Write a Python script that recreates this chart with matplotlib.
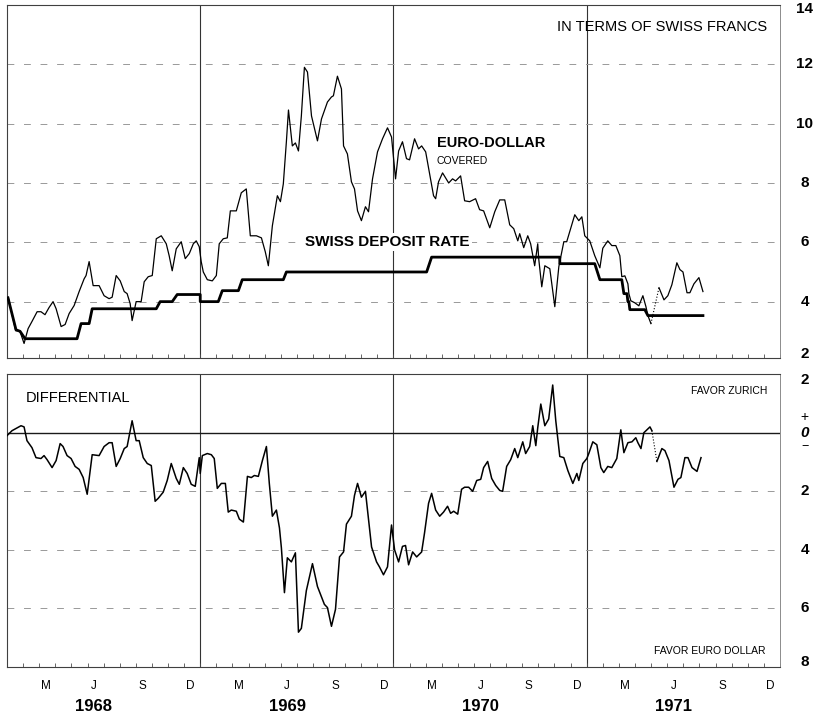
import matplotlib
matplotlib.use('Agg')
import matplotlib.pyplot as plt
import matplotlib.transforms as mtransforms

plt.rcParams['font.family'] = ['Liberation Sans', 'DejaVu Sans']

# Months counted from 1 January 1968.
euro_month = [0.08, 0.54, 0.79, 1.06, 1.31, 1.55, 1.87, 2.11, 2.36, 2.61, 2.86, 3.05,
              3.36, 3.61, 3.86, 4.17, 4.48, 4.79, 4.91, 5.10, 5.35, 5.72, 6.03, 6.34,
              6.53, 6.78, 7.03, 7.28, 7.46, 7.65, 7.77, 8.02, 8.33, 8.52, 8.77, 9.02,
              9.27, 9.58, 9.89, 10.07, 10.26, 10.51, 10.82, 11.07, 11.32, 11.57, 11.75,
              11.94, 12.06, 12.19, 12.44, 12.75, 13.0, 13.18, 13.43, 13.68, 13.87, 14.24,
              14.55, 14.86, 15.11, 15.49, 15.80, 16.04, 16.23, 16.48, 16.79, 16.98, 17.16,
              17.35, 17.48, 17.72, 17.91, 18.10, 18.28, 18.47, 18.66, 18.91, 19.28, 19.53,
              19.90, 20.15, 20.27, 20.52, 20.77, 20.90, 21.14, 21.39, 21.58, 21.77, 22.01,
              22.26, 22.45, 22.70, 23.01, 23.32, 23.63, 23.88, 24.13, 24.32, 24.56, 24.81,
              25.0, 25.31, 25.56, 25.75, 26.0, 26.49, 26.62, 26.80, 27.05, 27.43, 27.67,
              27.86, 28.17, 28.42, 28.73, 29.10, 29.35, 29.60, 29.98, 30.29, 30.60, 30.91,
              31.22, 31.47, 31.72, 31.84, 32.09, 32.34, 32.52, 32.77, 32.96, 33.02, 33.21,
              33.40, 33.71, 34.02, 34.27, 34.58, 34.76, 35.26, 35.51, 35.70, 35.88, 36.19,
              36.50, 36.82, 37.0, 37.31, 37.56, 37.81, 38.06, 38.18, 38.37, 38.56, 38.62,
              38.74, 38.99, 39.24, 39.49, 39.68, 39.80, 39.99]
euro_rate = [4.13, 3.02, 3.02, 2.59, 3.09, 3.33, 3.66, 3.66, 3.56, 3.80, 4.0, 3.76,
             3.16, 3.23, 3.60, 3.87, 4.34, 4.77, 4.88, 5.35, 4.54, 4.54, 4.20, 4.10,
             4.15, 4.88, 4.70, 4.34, 4.27, 3.93, 3.36, 4.0, 4.0, 4.67, 4.84, 4.88,
             6.12, 6.22, 5.95, 5.55, 5.04, 5.78, 6.02, 5.45, 5.62, 5.95, 6.05,
             5.85, 5.35, 5.0, 4.74, 4.70, 4.88, 5.95, 6.12, 6.15, 7.06, 7.06,
             7.67, 7.80, 6.22, 6.22, 6.15, 5.68, 5.21, 6.56, 7.57, 7.37, 7.97,
             9.39, 10.46, 9.25, 9.35, 9.08, 10.26, 11.90, 11.74, 10.26, 9.42, 10.16,
             10.73, 10.90, 10.94, 11.60, 11.17, 9.25, 8.98, 8.04, 7.80, 7.06, 6.73,
             7.20, 7.03, 8.14, 9.05, 9.49, 9.86, 9.55, 8.14, 9.08, 9.39, 8.82,
             8.78, 9.49, 9.15, 9.25, 9.05, 7.57, 7.47, 8.04, 8.34, 8.0, 8.14,
             8.07, 8.24, 7.40, 7.37, 7.47, 7.10, 7.06, 6.49, 7.03, 7.43, 7.43,
             6.59, 6.46, 6.05, 6.29, 5.82, 6.22, 5.95, 5.21, 5.95, 5.45, 4.50,
             5.21, 5.11, 3.83, 5.18, 6.02, 6.02, 6.93, 6.73, 6.86, 6.22, 6.05,
             5.55, 5.14, 5.80, 6.05, 5.89, 5.89, 5.55, 4.84, 4.87, 4.60, 4.27,
             4.03, 3.96, 3.86, 4.20, 3.83, 3.53, 3.26]
euro_month_late = [40.49, 40.80, 41.04, 41.29, 41.60, 41.79, 41.98, 42.23, 42.41,
                   42.66, 42.97, 43.22]
euro_rate_late = [4.47, 4.06, 4.20, 4.57, 5.31, 5.08, 5.0, 4.30, 4.30, 4.60, 4.81, 4.34]

swiss_month = [0.06, 0.56, 0.81, 1.12, 4.35, 4.60, 5.10, 5.29, 9.27, 9.51, 10.26, 10.57,
               12.0, 12.0, 13.12, 13.37, 14.37, 14.61, 17.16, 17.35, 26.06, 26.37,
               34.33, 34.33, 36.50, 36.82, 38.18, 38.31, 38.50, 38.56, 38.62, 38.68,
               39.61, 39.80, 43.22]
swiss_rate = [4.13, 3.05, 3.0, 2.75, 2.75, 3.26, 3.26, 3.76, 3.76, 4.0, 4.0, 4.24,
              4.24, 4.0, 4.0, 4.37, 4.37, 4.74, 4.74, 5.0, 5.0, 5.5,
              5.5, 5.28, 5.28, 4.74, 4.74, 4.27, 4.27, 4.0, 4.0, 3.73,
              3.73, 3.53, 3.53]

# Differential: positive favours Zurich, negative favours the Euro-dollar.
diff_month = [0.0, 0.31, 0.87, 1.06, 1.24, 1.55, 1.80, 2.11, 2.30, 2.49, 2.80, 3.05,
              3.30, 3.48, 3.73, 3.98, 4.23, 4.48, 4.73, 4.98, 5.29, 5.72, 6.03, 6.34,
              6.53, 6.78, 7.03, 7.28, 7.46, 7.77, 8.02, 8.21, 8.46, 8.71, 8.96, 9.20,
              9.39, 9.70, 9.95, 10.20, 10.51, 10.70, 10.95, 11.19, 11.44, 11.69, 11.94,
              12.0, 12.13, 12.44, 12.69, 12.87, 13.06, 13.31, 13.56, 13.74, 13.93, 14.24,
              14.43, 14.68, 14.93, 15.17, 15.36, 15.61, 15.86, 16.11, 16.29, 16.48, 16.73,
              16.92, 17.04, 17.23, 17.41, 17.66, 17.91, 18.10, 18.28, 18.59, 18.97, 19.28,
              19.71, 19.90, 20.15, 20.40, 20.65, 20.90, 21.08, 21.39, 21.58, 21.77, 22.01,
              22.26, 22.39, 22.64, 22.95, 23.13, 23.38, 23.63, 23.88, 24.07, 24.32, 24.56,
              24.75, 24.94, 25.19, 25.44, 25.75, 25.93, 26.18, 26.37, 26.62, 26.87, 27.11,
              27.36, 27.55, 27.74, 27.99, 28.23, 28.42, 28.67, 28.92, 29.17, 29.42, 29.60,
              29.85, 30.10, 30.35, 30.60, 30.78, 31.03, 31.28, 31.53, 31.72, 32.03, 32.21,
              32.46, 32.65, 32.84, 32.96, 33.15, 33.40, 33.64, 33.89, 34.08, 34.33, 34.58,
              34.83, 35.14, 35.39, 35.51, 35.76, 36.01, 36.13, 36.38, 36.63, 36.88, 37.06,
              37.31, 37.56, 37.87, 38.12, 38.31, 38.56, 38.81, 39.05, 39.18, 39.37, 39.55,
              39.93, 40.05]
diff_value = [-0.1, 0.07, 0.24, 0.20, -0.27, -0.51, -0.85, -0.88, -0.78, -0.92, -1.19, -0.95,
              -0.37, -0.47, -0.78, -0.88, -1.15, -1.25, -1.53, -2.10, -0.75, -0.78, -0.47, -0.34,
              -0.34, -1.15, -0.88, -0.54, -0.47, 0.41, -0.27, -0.27, -0.85, -1.05, -1.12, -2.34,
              -2.24, -2.03, -1.63, -1.05, -1.56, -1.76, -1.19, -1.39, -1.76, -1.83, -0.85,
              -1.39, -0.78, -0.71, -0.75, -0.88, -1.90, -1.73, -1.73, -2.71, -2.64, -2.68,
              -2.95, -3.05, -1.49, -1.53, -1.46, -1.49, -0.95, -0.47, -1.73, -2.85, -2.64,
              -3.25, -3.93, -5.46, -4.27, -4.41, -4.10, -6.81, -6.68, -5.39, -4.47, -5.25,
              -5.86, -5.97, -6.61, -6.03, -4.24, -4.07, -3.12, -2.85, -2.14, -1.73, -2.20,
              -2.0, -2.64, -3.90, -4.41, -4.58, -4.85, -4.58, -3.15, -4.0, -4.41, -3.88,
              -3.85, -4.51, -4.07, -4.24, -4.07, -3.42, -2.41, -2.07, -2.64, -2.85, -2.71,
              -2.51, -2.75, -2.68, -2.78, -1.93, -1.86, -1.86, -2.0, -1.63, -1.59, -1.19,
              -0.98, -1.56, -1.80, -1.97, -2.0, -1.15, -0.92, -0.54, -0.85, -0.31, -0.71,
              -0.47, 0.24, -0.44, 0.17, 0.98, 0.24, 0.47, 1.63, 0.41, -0.81, -0.85,
              -1.29, -1.73, -1.39, -1.63, -1.05, -0.88, -0.71, -0.31, -0.41, -1.19, -1.36,
              -1.15, -1.19, -0.88, 0.10, -0.68, -0.34, -0.31, -0.17, -0.34, -0.54, 0.0,
              0.20, 0.07]
diff_month_late = [40.36, 40.67, 40.86, 41.11, 41.42, 41.67, 41.85, 42.10, 42.29, 42.54,
                   42.85, 43.10]
diff_value_late = [-0.98, -0.54, -0.61, -0.95, -1.86, -1.59, -1.53, -0.85, -0.85, -1.19,
                   -1.32, -0.85]

month_labels = ['M', 'J', 'S', 'D']
years = ['1968', '1969', '1970', '1971']
top_ticks = [14, 12, 10, 8, 6, 4, 2]
bottom_ticks = [('2', 1.8), ('2', -2), ('4', -4), ('6', -6), ('8', -7.83)]


def style_axes(ax):
    ax.set_xlim(0, 48)
    for side in ['top', 'bottom', 'left']:
        ax.spines[side].set_color('0.25')
        ax.spines[side].set_linewidth(0.8)
    ax.spines['right'].set_color('0.55')
    ax.spines['right'].set_linewidth(0.7)
    ax.set_yticks([])
    ax.set_xticks(range(49), minor=True)
    ax.tick_params(axis='x', which='minor', direction='in', length=3, width=0.6,
                   color='0.3', top=False)
    for m in (12, 24, 36):
        ax.axvline(m, color='0.2', lw=0.8, zorder=1)


fig = plt.figure(figsize=(8.24, 7.16), dpi=100)
ax1 = fig.add_axes([0.0085, 0.5, 0.938, 0.493])
ax2 = fig.add_axes([0.0085, 0.0684, 0.938, 0.409])

# Top panel: rates in terms of Swiss francs.
style_axes(ax1)
ax1.set_ylim(2.1, 14)
ax1.set_xticks([])
for v in range(4, 13, 2):
    ax1.axhline(v, color='0.6', lw=0.7, ls=(0, (7, 10)), zorder=1)
ax1.plot(euro_month, euro_rate, color='black', lw=0.9, zorder=3)
ax1.plot([euro_month[-1], euro_month_late[0]], [euro_rate[-1], euro_rate_late[0]],
         color='black', lw=0.8, ls=':', zorder=3)
ax1.plot(euro_month_late, euro_rate_late, color='black', lw=0.9, zorder=3)
ax1.plot(swiss_month, swiss_rate, color='black', lw=2.0, zorder=3)

tr1 = mtransforms.blended_transform_factory(ax1.transAxes, ax1.transData)
for v in top_ticks:
    y = min(max(v, 2.25), 13.85)
    ax1.text(1.032, y, str(v), transform=tr1, ha='center', va='center',
             fontsize=11, fontweight='bold', clip_on=False)

ax1.text(0.984, 13.26, 'IN TERMS OF SWISS FRANCS', transform=tr1, ha='right',
         va='center', fontsize=10.5)
ax1.text(26.68, 9.35, 'EURO-DOLLAR', ha='left', va='center', fontsize=10.5,
         fontweight='bold')
ax1.text(26.68, 8.75, 'COVERED', ha='left', va='center', fontsize=7.5)
ax1.text(18.53, 6.0, 'SWISS DEPOSIT RATE', ha='left', va='center', fontsize=11,
         fontweight='bold', zorder=4,
         bbox=dict(facecolor='white', edgecolor='none', pad=1.5))

# Bottom panel: differential.
style_axes(ax2)
ax2.set_ylim(-8, 2)
for v in (-2, -4, -6):
    ax2.axhline(v, color='0.6', lw=0.7, ls=(0, (7, 10)), zorder=1)
ax2.axhline(0, color='0.1', lw=1.0, zorder=2)
ax2.plot(diff_month, diff_value, color='black', lw=1.1, zorder=3)
ax2.plot([diff_month[-1], diff_month_late[0]], [diff_value[-1], diff_value_late[0]],
         color='black', lw=0.8, ls=':', zorder=3)
ax2.plot(diff_month_late, diff_value_late, color='black', lw=1.1, zorder=3)

tr2 = mtransforms.blended_transform_factory(ax2.transAxes, ax2.transData)
for label, y in bottom_ticks:
    ax2.text(1.032, y, label, transform=tr2, ha='center', va='center',
             fontsize=11, fontweight='bold', clip_on=False)
ax2.text(1.032, 0.55, '+', transform=tr2, ha='center', va='center', fontsize=10)
ax2.text(1.032, 0.0, '0', transform=tr2, ha='center', va='center', fontsize=11,
         fontweight='bold', fontstyle='italic')
ax2.text(1.032, -0.47, '\u2212', transform=tr2, ha='center', va='center', fontsize=9)

ax2.text(1.18, 1.19, 'DIFFERENTIAL', ha='left', va='center', fontsize=10.5)
ax2.text(0.984, 1.42, 'FAVOR ZURICH', transform=tr2, ha='right', va='center',
         fontsize=7.5)
ax2.text(0.981, -7.46, 'FAVOR EURO DOLLAR', transform=tr2, ha='right', va='center',
         fontsize=7.5)

# Month and year labels along the bottom.
label_pos = [12 * i + off for i in range(4) for off in (2.4, 5.4, 8.4, 11.4)]
ax2.set_xticks(label_pos)
ax2.set_xticklabels(month_labels * 4, fontsize=8.5)
ax2.tick_params(axis='x', which='major', length=0, pad=9)
for i, yr in enumerate(years):
    ax2.text(12 * i + 5.4, -0.135, yr, transform=mtransforms.blended_transform_factory(
        ax2.transData, ax2.transAxes), ha='center', va='center', fontsize=12,
        fontweight='bold')

fig.savefig('out.png', dpi=100, facecolor='white')
